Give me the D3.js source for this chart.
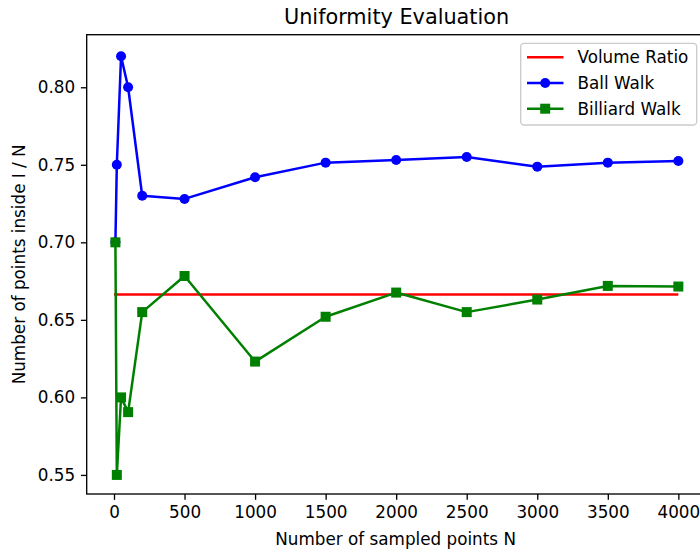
<!DOCTYPE html>
<html>
<head>
<meta charset="utf-8">
<script src="https://cdn.jsdelivr.net/npm/d3@7"></script>
<style>
  html, body { margin: 0; padding: 0; background: #fff; }
  svg { display: block; font-family: "DejaVu Sans", sans-serif; }
</style>
</head>
<body>
<svg id="chart" width="700" height="552"></svg>
<script>
// Sample sizes and the fraction of points found inside the body
const sampleSizes = [10, 20, 50, 100, 200, 500, 1000, 1500, 2000, 2500, 3000, 3500, 4000];
const ballWalk = [0.70, 0.75, 0.82, 0.80, 0.73, 0.728, 0.742, 0.7514, 0.7531, 0.755, 0.7488, 0.7514, 0.7524];
const billiardWalk = [0.70, 0.55, 0.60, 0.5905, 0.655, 0.6783, 0.6231, 0.652, 0.6676, 0.655, 0.6631, 0.6719, 0.6715];
const volumeRatioX = [0, 4000];
const volumeRatio = 0.6663;
const xTicks = [0, 500, 1000, 1500, 2000, 2500, 3000, 3500, 4000];
const yTicks = [0.55, 0.60, 0.65, 0.70, 0.75, 0.80];

const svg = d3.select("#chart");
const plotLeft = 86.7, plotRight = 706.5, plotTop = 34.7, plotBottom = 494;

const x = d3.scaleLinear().domain([-193.5, 4199.5]).range([plotLeft, plotRight]);
const y = d3.scaleLinear().domain([0.5377, 0.8339]).range([plotBottom, plotTop]);

const fontSize = 16.8;
const lw = 2.5;

// Axes
const xAxis = d3.axisBottom(x).tickValues(xTicks).tickFormat(d3.format("d"))
  .tickSizeInner(5.8).tickSizeOuter(0).tickPadding(5.8);
const yAxis = d3.axisLeft(y).tickValues(yTicks).tickFormat(d3.format(".2f"))
  .tickSizeInner(5.8).tickSizeOuter(0).tickPadding(5.8);

const gx = svg.append("g").attr("transform", `translate(0,${plotBottom})`).call(xAxis);
const gy = svg.append("g").attr("transform", `translate(${plotLeft},0)`).call(yAxis);
[gx, gy].forEach(g => {
  g.select(".domain").remove();
  g.selectAll(".tick line").attr("stroke", "#000").attr("stroke-width", 1.33);
  g.selectAll(".tick text").attr("fill", "#000")
    .style("font-family", "DejaVu Sans, sans-serif").style("font-size", fontSize + "px");
});

// Frame (right edge runs past the canvas)
svg.append("rect")
  .attr("x", plotLeft).attr("y", plotTop)
  .attr("width", plotRight - plotLeft).attr("height", plotBottom - plotTop)
  .attr("fill", "none").attr("stroke", "#000").attr("stroke-width", 1.33);

const plot = svg.append("g");

// Volume ratio reference line
plot.append("line")
  .attr("x1", x(volumeRatioX[0])).attr("x2", x(volumeRatioX[1]))
  .attr("y1", y(volumeRatio)).attr("y2", y(volumeRatio))
  .attr("stroke", "red").attr("stroke-width", lw);

const line = d3.line().x((d, i) => x(sampleSizes[i])).y(d => y(d));

// Ball walk
plot.append("path").datum(ballWalk).attr("d", line)
  .attr("fill", "none").attr("stroke", "blue").attr("stroke-width", lw)
  .attr("stroke-linejoin", "round");
plot.selectAll("circle.ball").data(ballWalk).join("circle")
  .attr("class", "ball")
  .attr("cx", (d, i) => x(sampleSizes[i])).attr("cy", d => y(d))
  .attr("r", 5).attr("fill", "blue");

// Billiard walk
plot.append("path").datum(billiardWalk).attr("d", line)
  .attr("fill", "none").attr("stroke", "green").attr("stroke-width", lw)
  .attr("stroke-linejoin", "round");
plot.selectAll("rect.bill").data(billiardWalk).join("rect")
  .attr("class", "bill")
  .attr("x", (d, i) => x(sampleSizes[i]) - 5).attr("y", d => y(d) - 5)
  .attr("width", 10).attr("height", 10).attr("fill", "green");

// Title and axis labels
svg.append("text").attr("x", (plotLeft + plotRight) / 2).attr("y", 24)
  .attr("text-anchor", "middle").style("font-size", "20.8px")
  .text("Uniformity Evaluation");
svg.append("text").attr("x", (plotLeft + plotRight) / 2 - 1).attr("y", 545)
  .attr("text-anchor", "middle").style("font-size", fontSize + "px")
  .text("Number of sampled points N");
svg.append("text")
  .attr("transform", `translate(25,${(plotTop + plotBottom) / 2}) rotate(-90)`)
  .attr("text-anchor", "middle").style("font-size", fontSize + "px")
  .text("Number of points inside I / N");

// Legend
const legend = svg.append("g");
legend.append("rect")
  .attr("x", 520.7).attr("y", 43.3).attr("width", 176).attr("height", 81.7)
  .attr("rx", 3.5).attr("fill", "#fff").attr("fill-opacity", 0.8)
  .attr("stroke", "#ccc").attr("stroke-width", 1.33);
const entries = [
  { label: "Volume Ratio", color: "red", marker: null },
  { label: "Ball Walk", color: "blue", marker: "circle" },
  { label: "Billiard Walk", color: "green", marker: "square" }
];
const rowY = [57.3, 83, 108.7];
entries.forEach((e, i) => {
  const cy = rowY[i];
  legend.append("line").attr("x1", 527).attr("x2", 563.5)
    .attr("y1", cy).attr("y2", cy).attr("stroke", e.color).attr("stroke-width", lw);
  if (e.marker === "circle") {
    legend.append("circle").attr("cx", 545.2).attr("cy", cy).attr("r", 5).attr("fill", e.color);
  } else if (e.marker === "square") {
    legend.append("rect").attr("x", 540.2).attr("y", cy - 5).attr("width", 10).attr("height", 10).attr("fill", e.color);
  }
  legend.append("text").attr("x", 577.5).attr("y", cy).attr("dy", "0.36em")
    .style("font-size", fontSize + "px").text(e.label);
});
</script>
</body>
</html>
